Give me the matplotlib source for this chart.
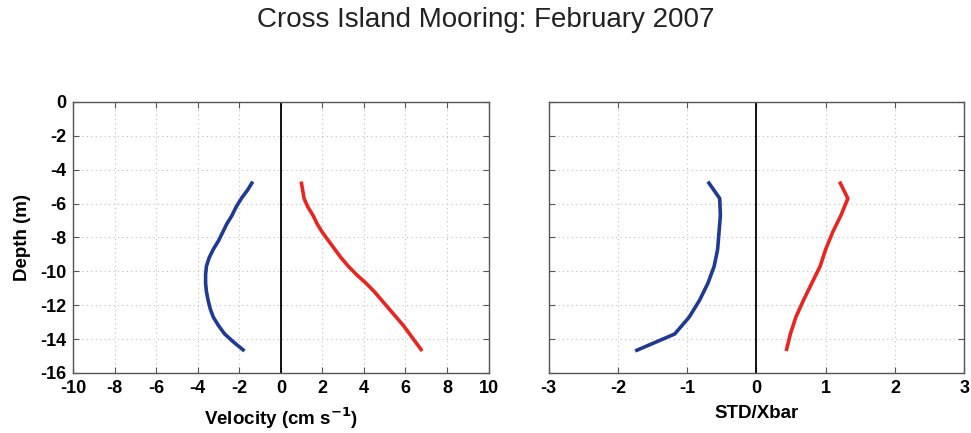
import numpy as np
import matplotlib
matplotlib.use("Agg")
import matplotlib.pyplot as plt

# depth bins (m)
depth_vel = [-4.7, -5.2, -5.7, -6.2, -6.7, -7.2, -7.7, -8.2, -8.7, -9.2, -9.7,
             -10.2, -10.7, -11.2, -11.7, -12.2, -12.7, -13.2, -13.7, -14.2, -14.7]
vel_blue = [-1.35, -1.6, -1.9, -2.15, -2.35, -2.6, -2.8, -3.0, -3.25, -3.45, -3.58,
            -3.62, -3.62, -3.58, -3.5, -3.4, -3.25, -3.0, -2.7, -2.25, -1.75]
vel_red = [0.98, 1.05, 1.12, 1.3, 1.55, 1.75, 2.0, 2.3, 2.6, 2.9, 3.25,
           3.65, 4.1, 4.5, 4.85, 5.2, 5.55, 5.9, 6.2, 6.5, 6.8]

depth_std = [-4.7, -5.7, -6.7, -7.7, -8.7, -9.7, -10.7, -11.7, -12.7, -13.7, -14.7]
std_blue = [-0.70, -0.53, -0.52, -0.54, -0.56, -0.61, -0.70, -0.82, -0.97, -1.18, -1.75]
std_red = [1.20, 1.32, 1.22, 1.10, 1.00, 0.92, 0.80, 0.68, 0.57, 0.49, 0.43]

plt.rcParams['font.family'] = ['Liberation Sans', 'DejaVu Sans']
plt.rcParams['axes.unicode_minus'] = False

BLUE = '#1f3a93'
RED = '#e8251f'

fig = plt.figure(figsize=(9.71, 4.33), dpi=100)
ax1 = fig.add_axes([0.0752, 0.1386, 0.428, 0.626])
ax2 = fig.add_axes([0.565, 0.1386, 0.428, 0.626])


def style(ax, xlim, xticks):
    ax.set_xlim(xlim)
    ax.set_ylim(-16, 0)
    ax.set_xticks(xticks)
    ax.set_yticks(np.arange(-16, 1, 2))
    ax.grid(True, linestyle=(0, (1, 3)), color='#c0c0c0', linewidth=0.8)
    ax.tick_params(direction='in', top=True, right=True, length=4,
                   labelsize=13, color='#555555', pad=5)
    for lab in ax.get_xticklabels() + ax.get_yticklabels():
        lab.set_fontweight('bold')
    for s in ax.spines.values():
        s.set_color('#555555')
        s.set_linewidth(1.0)
    ax.axvline(0, color='black', linewidth=1.3)


ax1.plot(vel_blue, depth_vel, color=BLUE, linewidth=2.6, solid_capstyle='butt')
ax1.plot(vel_red, depth_vel, color=RED, linewidth=2.6, solid_capstyle='butt')
style(ax1, (-10, 10), np.arange(-10, 11, 2))
ax1.set_xlabel('Velocity (cm s$^{\\mathbf{-1}}$)', fontsize=13.5,
               fontweight='bold', labelpad=6)
ax1.set_ylabel('Depth (m)', fontsize=13.5, fontweight='bold', labelpad=6)

ax2.plot(std_blue, depth_std, color=BLUE, linewidth=2.6, solid_capstyle='butt')
ax2.plot(std_red, depth_std, color=RED, linewidth=2.6, solid_capstyle='butt')
style(ax2, (-3, 3), np.arange(-3, 4, 1))
ax2.set_yticklabels([])
ax2.set_xlabel('STD/Xbar', fontsize=13.5, fontweight='bold', labelpad=6)

fig.text(0.5, 0.953, 'Cross Island Mooring: February 2007', ha='center',
         va='center', fontsize=20, color='#222222')

fig.savefig('out.png', dpi=100)
